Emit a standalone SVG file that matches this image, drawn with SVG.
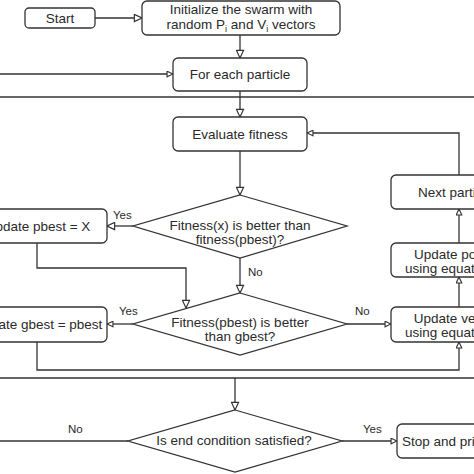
<svg xmlns="http://www.w3.org/2000/svg" width="474" height="474" viewBox="0 0 474 474">
<defs>
<style>
.box{fill:#fff;stroke:#333;stroke-width:1.3}
.dia{fill:#fff;stroke:#333;stroke-width:1.3}
.t{font-family:"Liberation Sans",Arial,sans-serif;font-size:13.5px;fill:#2a2a2a;text-anchor:middle}
.l{font-family:"Liberation Sans",Arial,sans-serif;font-size:11.5px;fill:#2a2a2a}
.c{fill:none;stroke:#333;stroke-width:1.3}
.cb{fill:none;stroke:#333;stroke-width:1.5}
</style>
<marker id="big" viewBox="0 0 10 10" markerUnits="userSpaceOnUse" markerWidth="9" markerHeight="9" refX="9.5" refY="5" orient="auto">
<path d="M1,1 L9.5,5 L1,9 Z" fill="#fff" stroke="#333" stroke-width="1.3"/>
</marker>
<marker id="sm" viewBox="0 0 10 10" markerUnits="userSpaceOnUse" markerWidth="7" markerHeight="7" refX="9.5" refY="5" orient="auto">
<path d="M1,1 L9.5,5 L1,9 Z" fill="#fff" stroke="#333" stroke-width="1.6"/>
</marker>
</defs>
<rect width="474" height="474" fill="#fff"/>

<g id="connectors">
<line class="cb" x1="0" y1="97" x2="474" y2="97"/>
<line class="cb" x1="0" y1="378" x2="474" y2="378"/>
<line class="c" x1="95" y1="18" x2="142" y2="18" marker-end="url(#big)"/>
<line class="c" x1="240" y1="35" x2="240" y2="58" marker-end="url(#big)"/>
<line class="c" x1="0" y1="74" x2="173" y2="74" marker-end="url(#sm)"/>
<line class="c" x1="240" y1="91" x2="240" y2="117" marker-end="url(#big)"/>
<line class="c" x1="240" y1="151" x2="240" y2="195" marker-end="url(#big)"/>
<line class="c" x1="133" y1="226" x2="107" y2="226" marker-end="url(#big)"/>
<polyline class="c" points="37,243 37,268 186,268 186,308" marker-end="url(#big)"/>
<line class="c" x1="240" y1="258" x2="240" y2="293" marker-end="url(#big)"/>
<line class="c" x1="133" y1="324" x2="107" y2="324" marker-end="url(#sm)"/>
<line class="c" x1="347" y1="324" x2="391" y2="324" marker-end="url(#sm)"/>
<polyline class="c" points="37,342 37,370 459,370 459,342" marker-end="url(#sm)"/>
<line class="c" x1="459" y1="307" x2="459" y2="277" marker-end="url(#sm)"/>
<line class="c" x1="459" y1="243" x2="459" y2="209" marker-end="url(#sm)"/>
<polyline class="c" points="459,175 459,133 307,133" marker-end="url(#sm)"/>
<line class="c" x1="235" y1="378" x2="235" y2="410" marker-end="url(#big)"/>
<line class="c" x1="128" y1="441" x2="0" y2="441"/>
<line class="c" x1="342" y1="441" x2="397" y2="441" marker-end="url(#sm)"/>
<text class="l" x="113" y="219">Yes</text>
<text class="l" x="248" y="276">No</text>
<text class="l" x="119" y="315">Yes</text>
<text class="l" x="355" y="315">No</text>
<text class="l" x="68" y="433">No</text>
<text class="l" x="363" y="433">Yes</text>
</g>

<g id="start">
<rect class="box" x="25" y="8" width="70" height="20" rx="4"/>
<text class="t" x="60" y="23">Start</text>
</g>
<g id="init">
<rect class="box" x="142" y="1" width="198" height="34" rx="5"/>
<text class="t" x="241" y="14">Initialize the swarm with</text>
<text class="t" x="241" y="29">random P<tspan font-size="9" dy="3">i</tspan><tspan dy="-3"> and V</tspan><tspan font-size="9" dy="3">i</tspan><tspan dy="-3"> vectors</tspan></text>
</g>
<g id="foreach">
<rect class="box" x="173" y="58" width="134" height="33" rx="5"/>
<text class="t" x="240" y="79">For each particle</text>
</g>
<g id="evaluate">
<rect class="box" x="173" y="117" width="134" height="34" rx="5"/>
<text class="t" x="240" y="139">Evaluate fitness</text>
</g>
<g id="d1">
<polygon class="dia" points="240,195 347,226 240,258 133,226"/>
<text class="t" x="240" y="230">Fitness(x) is better than</text>
<text class="t" x="240" y="244">fitness(pbest)?</text>
</g>
<g id="pbest">
<rect class="box" x="-30" y="209" width="137" height="34" rx="5"/>
<text class="t" x="38" y="231">Update pbest = X</text>
</g>
<g id="d2">
<polygon class="dia" points="240,293 347,324 240,355 133,324"/>
<text class="t" x="240" y="327">Fitness(pbest) is better</text>
<text class="t" x="240" y="341">than gbest?</text>
</g>
<g id="gbest">
<rect class="box" x="-30" y="307" width="137" height="35" rx="5"/>
<text class="t" x="38" y="329">Update gbest = pbest</text>
</g>
<g id="next">
<rect class="box" x="391" y="175" width="136" height="34" rx="5"/>
<text class="t" x="418" y="197" text-anchor="start" style="text-anchor:start">Next particle</text>
</g>
<g id="position">
<rect class="box" x="391" y="243" width="136" height="34" rx="5"/>
<text class="t" x="461" y="259">Update position</text>
<text class="t" x="459" y="272.5">using equation (2)</text>
</g>
<g id="velocity">
<rect class="box" x="391" y="307" width="136" height="35" rx="5"/>
<text class="t" x="460" y="323">Update velocity</text>
<text class="t" x="459" y="336.5">using equation (1)</text>
</g>
<g id="d3">
<polygon class="dia" points="235,410 342,441 235,472 128,441"/>
<text class="t" x="234" y="445">Is end condition satisfied?</text>
</g>
<g id="stop">
<rect class="box" x="397" y="424" width="136" height="34" rx="5"/>
<text class="t" x="402" y="446" style="text-anchor:start">Stop and print results</text>
</g>
</svg>
